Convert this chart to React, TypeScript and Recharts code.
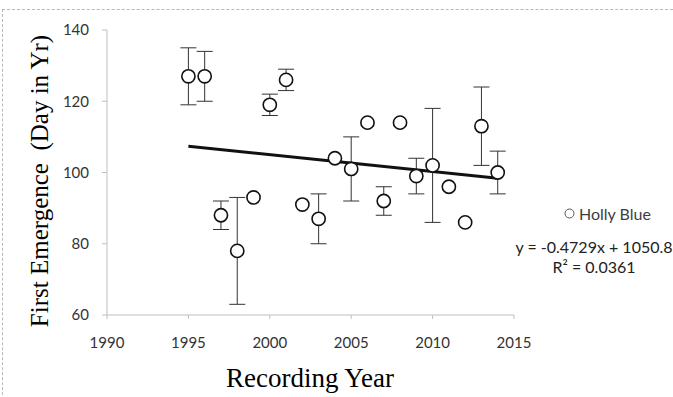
import { ScatterChart, Scatter, XAxis, YAxis, ErrorBar } from 'recharts';

// Holly Blue first emergence by year, with error ranges
const years = [1995, 1996, 1997, 1998, 1999, 2000, 2001, 2002, 2003, 2004, 2005, 2006, 2007, 2008, 2009, 2010, 2011, 2012, 2013, 2014];
const emergence = [127, 127, 88, 78, 93, 119, 126, 91, 87, 104, 101, 114, 92, 114, 99, 102, 96, 86, 113, 100];
const errors = [8, 7, 4, 15, 0, 3, 3, 0, 7, 0, 9, 0, 4, 0, 5, 16, 0, 0, 11, 6];

// linear trend y = slope * x + intercept
const slope = -0.4729;
const intercept = 1050.8;
const trendYears = [1995, 2014];

const xTicks = [1990, 1995, 2000, 2005, 2010, 2015];
const yTicks = [60, 80, 100, 120, 140];

const points = years.map((year, i) => ({ year, day: emergence[i], err: errors[i] }));
const trend = trendYears.map((year) => ({ year, day: slope * year + intercept }));

const tickStyle = { fontFamily: 'Lato, sans-serif', fontSize: 15, fill: '#333' };
const serif = '"Liberation Serif", "Times New Roman", serif';

export default function App() {
  return (
    <div style={{ position: 'absolute', left: 0, top: 0, width: 673, height: 397, background: '#fff', overflow: 'hidden' }}>
      <div style={{ position: 'absolute', left: 2, top: 9, width: 700, height: 400, borderTop: '1px dashed #b8b8b8', borderLeft: '1px dashed #b8b8b8' }} />
      <ScatterChart width={673} height={397} margin={{ top: 30, right: 159, bottom: 52, left: 47 }}>
        <XAxis
          dataKey="year"
          type="number"
          domain={[1990, 2015]}
          ticks={xTicks}
          height={30}
          stroke="#bfbfbf"
          tickSize={4}
          tickMargin={18}
          tick={tickStyle}
          allowDataOverflow
        />
        <YAxis
          dataKey="day"
          type="number"
          domain={[60, 140]}
          ticks={yTicks}
          width={60}
          stroke="#bfbfbf"
          tickSize={5}
          tickMargin={13}
          tick={tickStyle}
          allowDataOverflow
        />
        <Scatter
          data={trend}
          line={{ stroke: '#111', strokeWidth: 3 }}
          shape={() => <g />}
          isAnimationActive={false}
        />
        <Scatter
          data={points}
          fill="#fff"
          stroke="#111"
          strokeWidth={1.6}
          shape={(p: any) => <circle cx={p.cx} cy={p.cy} r={6.6} fill="#fff" stroke="#111" strokeWidth={1.6} />}
          isAnimationActive={false}
        >
          <ErrorBar dataKey="err" direction="y" width={8} stroke="#333" strokeWidth={1} />
        </Scatter>
      </ScatterChart>
      <div style={{ position: 'absolute', left: 310, top: 378, transform: 'translate(-50%, -50%)', fontFamily: serif, fontSize: 27, whiteSpace: 'nowrap', color: '#000' }}>
        Recording Year
      </div>
      <div style={{ position: 'absolute', left: 40, top: 181, transform: 'translate(-50%, -50%) rotate(-90deg)', fontFamily: serif, fontSize: 25, whiteSpace: 'pre', color: '#000' }}>
        {'First Emergence  (Day in Yr)'}
      </div>
      <div style={{ position: 'absolute', left: 564, top: 202, height: 22, display: 'flex', alignItems: 'center', fontFamily: 'Lato, sans-serif', fontSize: 16, color: '#404040', whiteSpace: 'nowrap' }}>
        <svg width={11} height={11} style={{ marginRight: 4 }}>
          <circle cx={5.5} cy={5.5} r={4.5} fill="#fff" stroke="#555" strokeWidth={1} />
        </svg>
        Holly Blue
      </div>
      <div style={{ position: 'absolute', left: 594, top: 237, transform: 'translateX(-50%)', fontFamily: 'Lato, sans-serif', fontSize: 16, color: '#222', textAlign: 'center', lineHeight: '20px', whiteSpace: 'nowrap' }}>
        y = -0.4729x + 1050.8
        <br />
        R² = 0.0361
      </div>
    </div>
  );
}
